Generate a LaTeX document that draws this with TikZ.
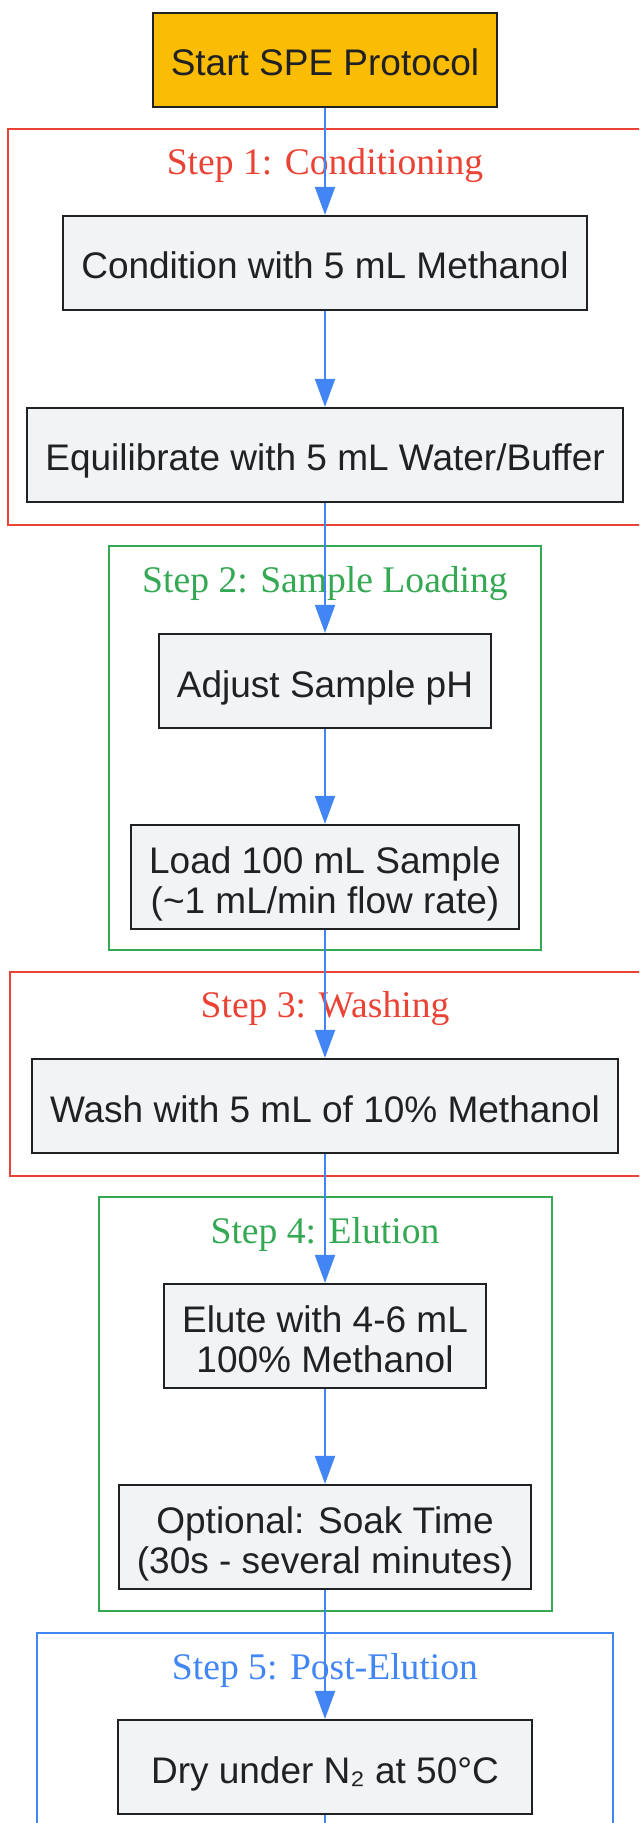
\documentclass[tikz,border=0pt]{standalone}
\usepackage{fontspec}
\setmainfont{Liberation Serif}
\setsansfont{Liberation Sans}
\usetikzlibrary{arrows.meta, positioning}
\definecolor{gyellow}{HTML}{FBBC04}
\definecolor{ggray}{HTML}{F1F3F4}
\definecolor{ink}{HTML}{202124}
\definecolor{gred}{HTML}{EA4335}
\definecolor{ggreen}{HTML}{34A853}
\definecolor{gblue}{HTML}{4285F4}
% struts for two-line boxes
\newcommand{\padtop}{\rule{0pt}{20pt}}
\newcommand{\padbot}{\rule[-4pt]{0pt}{0pt}}

\begin{document}
\begin{tikzpicture}[x=0.5pt, y=-0.5pt,
  >={Triangle[length=14pt, width=10pt]},
  stepbox/.style={draw=ink, line width=1.1pt, fill=ggray, text=ink,
    font=\sffamily\fontsize{18.5pt}{20pt}\selectfont, align=center,
    inner xsep=9pt, inner ysep=4pt, minimum height=47pt},
  oneline/.style={stepbox, text height=20pt, text depth=4pt},
  twoline/.style={stepbox, minimum height=52pt},
  flow/.style={->, gblue, line width=1pt},
  phase/.style={line width=1.1pt},
  phaselabel/.style={font=\rmfamily\fontsize{18.8pt}{22pt}\selectfont}]

% Canvas
\useasboundingbox (0,0) rectangle (639,1823);
\clip (0,0) rectangle (639,1823);
\fill[white] (0,0) rectangle (639,1823);

% === Phase frames ===
\draw[phase, gred]   (8,129)   rectangle (700,525);
\draw[phase, ggreen] (109,546) rectangle (541,950);
\draw[phase, gred]   (10,972)  rectangle (700,1176);
\draw[phase, ggreen] (99,1197) rectangle (552,1611);
\draw[phase, gblue]  (37,1633) rectangle (613,1900);

\node[phaselabel, text=gred]   (lbl1) at (325,166)  {Step 1: Conditioning};
\node[phaselabel, text=ggreen] (lbl2) at (325,584)  {Step 2: Sample Loading};
\node[phaselabel, text=gred]   (lbl3) at (325,1009) {Step 3: Washing};
\node[phaselabel, text=ggreen] (lbl4) at (325,1234) {Step 4: Elution};
\node[phaselabel, text=gblue]  (lbl5) at (325,1670) {Step 5: Post-Elution};

% === Steps ===
\node[oneline, fill=gyellow] (start) at (325,60) {Start SPE Protocol};

\node[oneline] (cond)   at (325,263) {Condition with 5 mL Methanol};
\node[oneline] (equil)  at (325,455) {Equilibrate with 5 mL Water/Buffer};

\node[oneline] (adjust) at (325,681) {Adjust Sample pH};
\node[twoline] (load)   at (325,877)
  {\padtop Load 100 mL Sample\\(\textasciitilde1 mL/min flow rate)\padbot};

\node[oneline] (wash)   at (325,1106) {Wash with 5 mL of 10\% Methanol};

\node[twoline] (elute)  at (325,1336) {\padtop Elute with 4-6 mL\\100\% Methanol\padbot};
\node[twoline] (soak)   at (325,1537)
  {\padtop Optional: Soak Time\\(30s - several minutes)\padbot};

\node[oneline, minimum width=207pt] (dry) at (325,1767) {Dry under N₂ at 50°C};
\coordinate (out) at (325,1823);

% === Flow ===
\draw[flow] (start) -- (cond);
\draw[flow] (cond) -- (equil);
\draw[flow] (equil) -- (adjust);
\draw[flow] (adjust) -- (load);
\draw[flow] (load) -- (wash);
\draw[flow] (wash) -- (elute);
\draw[flow] (elute) -- (soak);
\draw[flow] (soak) -- (dry);
\draw[gblue, line width=1pt] (dry) -- (out);

\end{tikzpicture}
\end{document}
